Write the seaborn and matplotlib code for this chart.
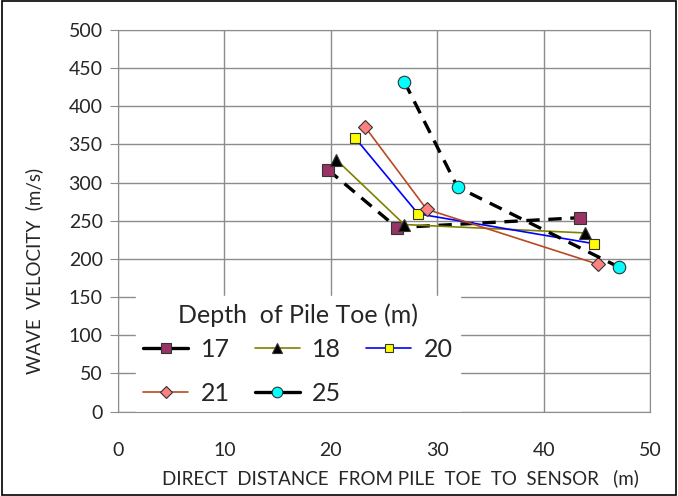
import matplotlib
matplotlib.use("Agg")
import matplotlib.pyplot as plt
from matplotlib.lines import Line2D
from matplotlib.patches import Rectangle
import seaborn as sns
import pandas as pd

# data
depths = ["17", "18", "20", "21", "25"]
dist_17 = [19.7, 26.2, 43.4]
vel_17 = [317, 241, 254]
dist_18 = [20.5, 26.9, 43.9]
vel_18 = [330, 245, 234]
dist_20 = [22.3, 28.2, 44.7]
vel_20 = [358, 259, 220]
dist_21 = [23.2, 29.0, 45.1]
vel_21 = [373, 265, 193]
dist_25 = [26.9, 31.9, 47.1]
vel_25 = [432, 294, 189]

x_ticks = [0, 10, 20, 30, 40, 50]
y_ticks = list(range(0, 501, 50))

series = {
    "17": (dist_17, vel_17),
    "18": (dist_18, vel_18),
    "20": (dist_20, vel_20),
    "21": (dist_21, vel_21),
    "25": (dist_25, vel_25),
}

# style per series
styles = {
    "17": dict(color="black", dashed=True, marker="s", face="#993366", ms=9, lw=2.4),
    "18": dict(color="#808000", dashed=False, marker="^", face="black", ms=8, lw=1.2),
    "20": dict(color="#0000FF", dashed=False, marker="s", face="#FFFF00", ms=7.5, lw=1.2),
    "21": dict(color="#B84A22", dashed=False, marker="D", face="#FF8080", ms=7, lw=1.2),
    "25": dict(color="black", dashed=True, marker="o", face="#00FFFF", ms=9, lw=2.4),
}

sns.set_style("white")
plt.rcParams["font.family"] = ["Lato", "DejaVu Sans"]

fig = plt.figure(figsize=(6.78, 4.96), dpi=100)
ax = fig.add_axes([0.174, 0.170, 0.785, 0.770])

for d in depths:
    xs, ys = series[d]
    st = styles[d]
    df = pd.DataFrame({"x": xs, "y": ys})
    sns.lineplot(data=df, x="x", y="y", sort=False, ax=ax, color=st["color"],
                 linewidth=st["lw"], marker=st["marker"], markersize=st["ms"],
                 markerfacecolor=st["face"], markeredgecolor="#333333",
                 markeredgewidth=0.8, estimator=None)
    if st["dashed"]:
        ax.lines[-1].set_dashes([4, 2.6])

ax.set_xlim(0, 50)
ax.set_ylim(0, 500)
ax.set_xticks(x_ticks)
ax.set_yticks(y_ticks)
ax.grid(True, color="#8c8c8c", linewidth=1)
for s in ax.spines.values():
    s.set_color("#8c8c8c")
ax.tick_params(axis="y", labelsize=14, length=6, color="#8c8c8c",
               direction="out", left=True, pad=5)
ax.tick_params(axis="x", labelsize=14, length=0, pad=22)
ax.set_xlabel("DIRECT  DISTANCE  FROM PILE  TOE  TO  SENSOR   (m)", fontsize=13.5)
ax.xaxis.set_label_coords(0.53, -0.15)
ax.set_ylabel("WAVE  VELOCITY  (m/s)", fontsize=13.5)
ax.yaxis.set_label_coords(-0.141, 0.369)

# legend uses solid lines like the original, filled row by row
handles = {}
for d in depths:
    st = styles[d]
    handles[d] = Line2D([], [], color=st["color"], linewidth=st["lw"],
                        marker=st["marker"], markersize=st["ms"] * 0.85,
                        markerfacecolor=st["face"], markeredgecolor="#333333",
                        markeredgewidth=0.8)
order = ["17", "21", "18", "25", "20"]
leg = ax.legend([handles[d] for d in order], order, title="Depth  of Pile Toe (m)",
                ncol=3, loc="lower left", bbox_to_anchor=(0.01, -0.035), frameon=True,
                fontsize=18, title_fontsize=18, handlelength=1.8,
                columnspacing=1.0, handletextpad=0.5, borderpad=0.3,
                labelspacing=0.85, fancybox=False)
leg.get_frame().set_edgecolor("white")
leg.get_frame().set_facecolor("white")
leg.get_frame().set_alpha(1)
leg.set_zorder(2.2)  # above the grid, below the spines
leg._legend_box.sep = 8  # tighter gap under the title

fig.patches.append(Rectangle((0.003, 0.003), 0.994, 0.994, transform=fig.transFigure,
                             fill=False, edgecolor="black", linewidth=1.2))

fig.savefig("out.png", dpi=100)
